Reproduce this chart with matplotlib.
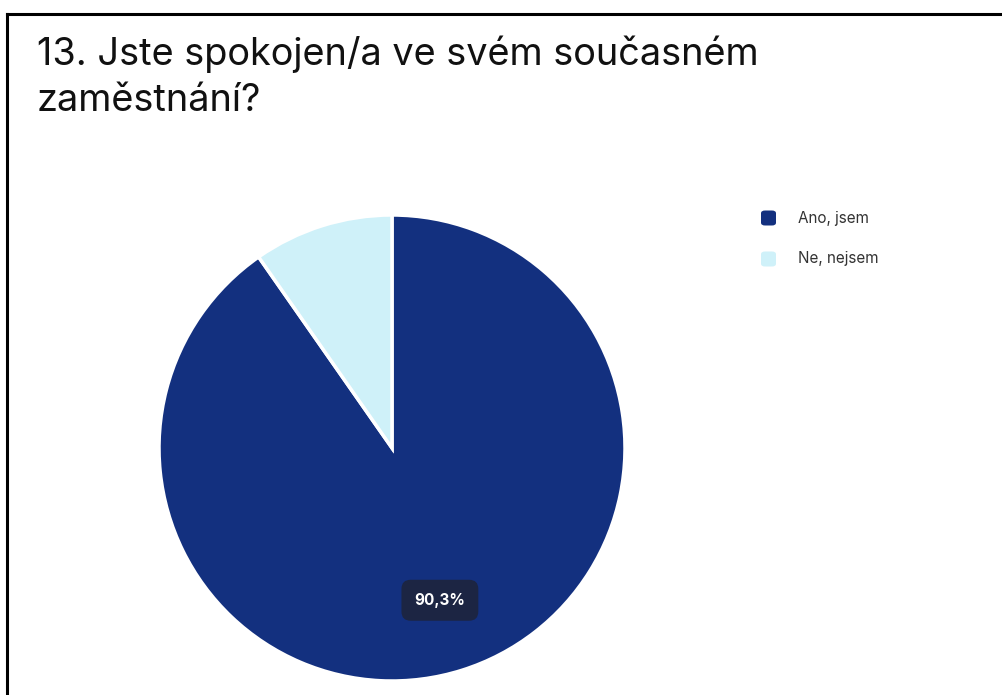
import matplotlib.pyplot as plt
from matplotlib.patches import FancyBboxPatch
from matplotlib.lines import Line2D

plt.rcParams["font.family"] = ["Inter", "DejaVu Sans"]

title_lines = ["13. Jste spokojen/a ve svém současném", "zaměstnání?"]
labels = ["Ano, jsem", "Ne, nejsem"]
shares = [90.3, 9.7]
colors = ["#13307f", "#cff1f9"]

W, H = 1003, 695
fig = plt.figure(figsize=(W / 100, H / 100), dpi=100)
fig.patch.set_facecolor("white")


def px(x, y):
    # pixel position from the top-left corner -> figure fraction
    return x / W, 1 - y / H


# frame along the left and top edges
fig.add_artist(Line2D([7 / W, 7 / W], [0, 1 - 14 / H], color="black", lw=2.2,
                      transform=fig.transFigure, solid_capstyle="projecting"))
fig.add_artist(Line2D([7 / W, 1], [1 - 14 / H, 1 - 14 / H], color="black", lw=2.2,
                      transform=fig.transFigure, solid_capstyle="projecting"))

for i, line in enumerate(title_lines):
    tx, ty = px(37, 65 + i * 46)
    fig.text(tx, ty, line, fontsize=27.3, color="#111111", ha="left", va="baseline")

# pie: centre (392, 448), radius 233 px
cx, cy, r = 392, 448, 233
ax = fig.add_axes([(cx - r) / W, 1 - (cy + r) / H, 2 * r / W, 2 * r / H])


def pct(v):
    return f"{v:.1f}%".replace(".", ",") if v > 20 else ""


wedges, texts, autotexts = ax.pie(
    shares, colors=colors, startangle=90, counterclock=False,
    autopct=pct, pctdistance=0.685,
    wedgeprops=dict(edgecolor="white", linewidth=2.5),
    textprops=dict(color="white", fontsize=11, fontweight="bold"),
)
for t in autotexts:
    if t.get_text():
        t.set_bbox(dict(boxstyle="round,pad=0.85,rounding_size=0.6",
                        facecolor="#1c2543", edgecolor="none"))
ax.set_xlim(-1, 1)
ax.set_ylim(-1, 1)
ax.set_aspect("equal")
ax.axis("off")

# legend entries
for i, (lab, col) in enumerate(zip(labels, colors)):
    my = 218 + i * 41
    x0, y0 = px(761, my + 7.5)
    box = FancyBboxPatch((x0, y0), 15 / W, 15 / H,
                         boxstyle="round,pad=0,rounding_size=0.004",
                         transform=fig.transFigure, facecolor=col,
                         edgecolor="none")
    fig.add_artist(box)
    lx, ly = px(798, my)
    fig.text(lx, ly, lab, fontsize=11, color="#333333", ha="left", va="center")

fig.savefig("out.png", dpi=100, facecolor="white")
